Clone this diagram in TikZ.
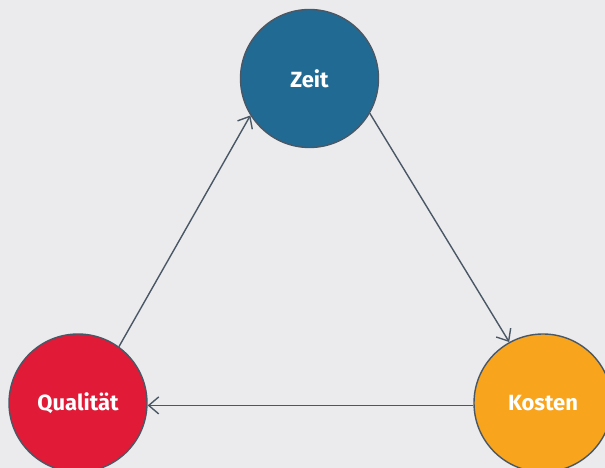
\documentclass[tikz,border=0pt]{standalone}
\usepackage{fontspec}
\setmainfont{Fira Sans}
\usetikzlibrary{arrows.meta}
\definecolor{bgcol}{HTML}{EBEBEE}
\definecolor{edgecol}{HTML}{4A5866}
\definecolor{zeitcol}{HTML}{216A94}
\definecolor{qualcol}{HTML}{E01A37}
\definecolor{kostcol}{HTML}{F8A41D}
\tikzset{
  goal/.style={circle, draw=edgecol, line width=1.4pt, minimum size=138pt,
    inner sep=0pt, text=white, font=\fontsize{22}{26}\selectfont\bfseries},
  link/.style={draw=edgecol, line width=1.4pt,
    -{Straight Barb[length=10pt,width=17pt,line width=1.4pt]}}
}
\begin{document}
\begin{tikzpicture}[x=1pt,y=1pt]
  \fill[bgcol] (0,0) rectangle (605,468);
  \useasboundingbox (0,0) rectangle (605,468);
  \begin{scope}
    \clip (0,0) rectangle (605,468);
    \node[goal, fill=zeitcol] (zeit) at (309.5,389.5) {Zeit};
    \node[goal, fill=qualcol] (qual) at (78,65) {Qualität};
    \node[goal, fill=kostcol] (kost) at (543,65) {Kosten};
    \draw[link] (qual.54.5) -- (zeit.212);
    \draw[link] (zeit.-30) -- (kost.119.5);
    \draw[link] (kost.182.5) -- (qual.-2.5);
  \end{scope}
\end{tikzpicture}
\end{document}
